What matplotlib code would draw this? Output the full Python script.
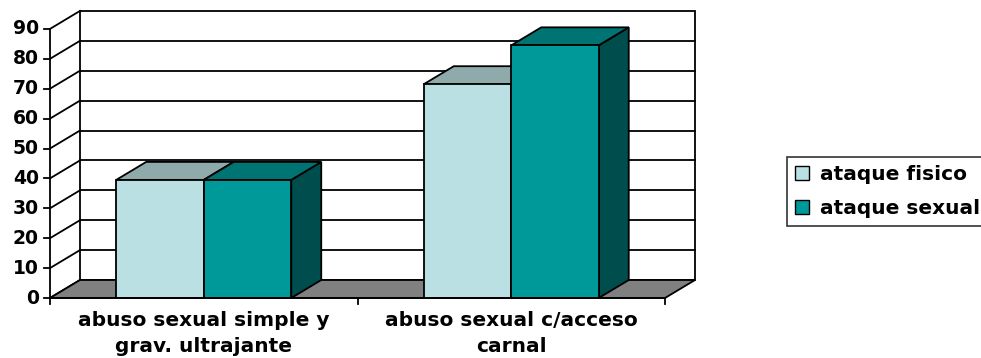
import matplotlib.pyplot as plt
from matplotlib.patches import Polygon, Patch

categorias = ["abuso sexual simple y\ngrav. ultrajante", "abuso sexual c/acceso\ncarnal"]
series = ["ataque fisico", "ataque sexual"]
ataque_fisico = [39.5, 71.5]
ataque_sexual = [39.5, 84.5]
yticks = [0, 10, 20, 30, 40, 50, 60, 70, 80, 90]

# colores: frente, arriba, costado
col_fisico = ("#bbe0e3", "#8faaaa", "#6f8c8e")
col_sexual = ("#009999", "#007373", "#004d4d")
gris_piso = "#808080"

plt.rcParams['font.family'] = ['DejaVu Sans']
fig = plt.figure(figsize=(9.81, 3.58), dpi=100)
ax = fig.add_axes([0, 0, 1, 1])
# 1 categoria = 307.5 px, 1 unidad = 2.99 px, origen en (50, 298) px
ax.set_xlim(-50 / 307.5, 931 / 307.5)
ax.set_ylim(-60 / 2.99, 298 / 2.99)
ax.axis('off')

DX = 30 / 307.5      # profundidad en x
DY = 18 / 2.99       # profundidad en y
ANCHO = 87.5 / 307.5
YMAX = yticks[-1]
ncat = len(categorias)
lw = 1.3

# pared del fondo
ax.add_patch(Polygon([(DX, DY), (ncat + DX, DY), (ncat + DX, YMAX + DY), (DX, YMAX + DY)],
                     closed=True, facecolor="white", edgecolor="black", lw=lw, zorder=1))
for v in yticks[1:-1]:
    ax.plot([DX, ncat + DX], [v + DY, v + DY], color="black", lw=lw, zorder=1)
# pared izquierda
for v in yticks:
    ax.plot([0, DX], [v, v + DY], color="black", lw=lw, zorder=1)
# piso
ax.add_patch(Polygon([(0, 0), (ncat, 0), (ncat + DX, DY), (DX, DY)],
                     closed=True, facecolor=gris_piso, edgecolor="black", lw=lw, zorder=2))

# barras
for i in range(ncat):
    centro = i + 0.5
    for j, (vals, cols) in enumerate([(ataque_fisico, col_fisico), (ataque_sexual, col_sexual)]):
        x0 = centro - ANCHO + j * ANCHO
        x1 = x0 + ANCHO
        h = vals[i]
        z = 3 + j
        ax.add_patch(Polygon([(x1, 0), (x1 + DX, DY), (x1 + DX, h + DY), (x1, h)],
                             closed=True, facecolor=cols[2], edgecolor="black", lw=lw, zorder=z))
        ax.add_patch(Polygon([(x0, h), (x1, h), (x1 + DX, h + DY), (x0 + DX, h + DY)],
                             closed=True, facecolor=cols[1], edgecolor="black", lw=lw, zorder=z))
        ax.add_patch(Polygon([(x0, 0), (x1, 0), (x1, h), (x0, h)],
                             closed=True, facecolor=cols[0], edgecolor="black", lw=lw, zorder=z))

# eje y
ax.plot([0, 0], [0, YMAX], color="black", lw=lw, zorder=6)
tick_x = 6 / 307.5
for v in yticks:
    ax.plot([-tick_x, 0], [v, v], color="black", lw=lw, zorder=6)
    ax.annotate(str(v), (0, v), xytext=(-11, 0), textcoords="offset pixels",
                ha="right", va="center", fontsize=13.5, fontweight="bold")

# eje x
ax.plot([0, ncat], [0, 0], color="black", lw=lw, zorder=6)
for i in range(ncat + 1):
    ax.plot([i, i], [0, -6 / 2.99], color="black", lw=lw, zorder=6)
for i, cat in enumerate(categorias):
    ax.annotate(cat, (i + 0.5, 0), xytext=(0, -13), textcoords="offset pixels",
                ha="center", va="top", fontsize=14.5, fontweight="bold", linespacing=1.45)

# leyenda
handles = [Patch(facecolor=col_fisico[0], edgecolor="black"),
           Patch(facecolor=col_sexual[0], edgecolor="black")]
leg = fig.legend(handles, series, loc="upper left", bbox_to_anchor=(787 / 981, 1 - 157 / 358),
                 borderaxespad=0, frameon=True, fancybox=False, shadow=False,
                 prop={"size": 14.5, "weight": "bold"}, handlelength=0.7, handleheight=0.7,
                 handletextpad=0.55, borderpad=0.4, labelspacing=0.75)
leg.get_frame().set_edgecolor("black")
leg.get_frame().set_linewidth(1.2)

fig.savefig("out.png", dpi=100)
